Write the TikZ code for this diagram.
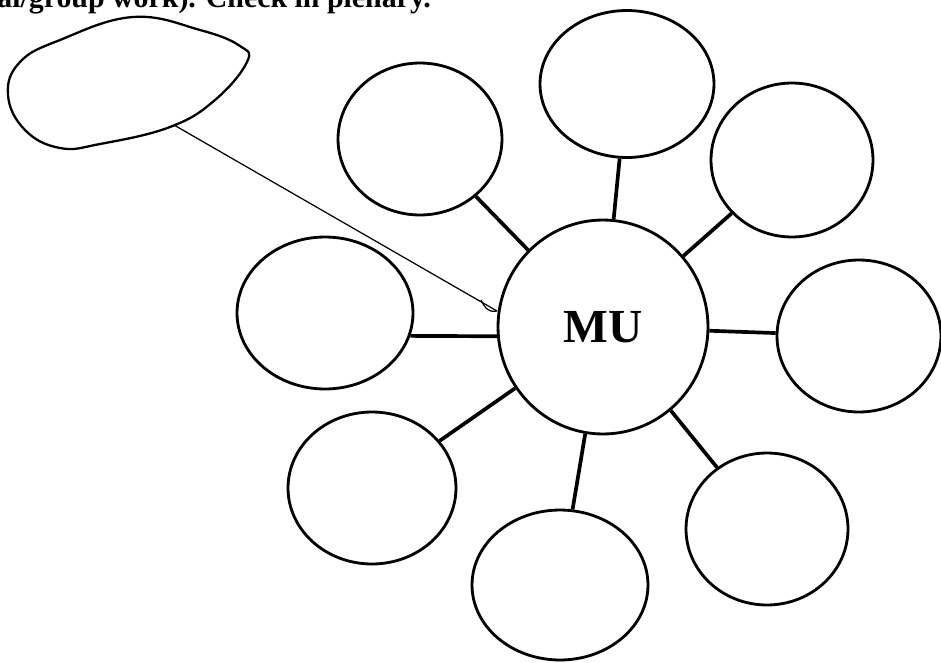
\documentclass[tikz,border=0pt]{standalone}
\usepackage{fontspec}
\setmainfont{Liberation Serif}
\usetikzlibrary{shapes.geometric}

\begin{document}
\begin{tikzpicture}[x=0.02cm, y=-0.02cm,
    bubble/.style={ellipse, draw, line width=1.6pt, inner sep=0pt},
    spoke/.style={line width=2.1pt},
    pointer/.style={line width=0.7pt}]
    % Page frame
    \useasboundingbox (0,0) rectangle (941,663);
    \clip (0,0) rectangle (941,663);

    % Instruction line, cut at the top
    \node[anchor=base west, inner sep=0pt, font=\bfseries\fontsize{17}{17}\selectfont] (Task) at (-3,7) {al/group work). Check in plenary.};

    % Centre
    \node[bubble, minimum width=4.2cm, minimum height=4.28cm, font=\bfseries\fontsize{27}{27}\selectfont] (MU) at (603,327) {MU};

    % Bubbles round the centre
    \node[bubble, minimum width=3.28cm, minimum height=3.04cm] (NW) at (420,139) {};
    \node[bubble, minimum width=3.48cm, minimum height=2.94cm] (N) at (627,84) {};
    \node[bubble, minimum width=3.24cm, minimum height=3.08cm] (NE) at (792,160) {};
    \node[bubble, minimum width=3.28cm, minimum height=3.04cm] (E) at (859,336) {};
    \node[bubble, minimum width=3.24cm, minimum height=3.04cm] (SE) at (767,529) {};
    \node[bubble, minimum width=3.52cm, minimum height=3.0cm] (S) at (560,585) {};
    \node[bubble, minimum width=3.36cm, minimum height=3.04cm] (SW) at (372,488) {};
    \node[bubble, minimum width=3.52cm, minimum height=3.04cm] (W) at (325,313) {};

    % Spokes
    \foreach \b in {NW, N, NE, E, SE, S, SW}
        \draw[spoke] (MU) -- (\b);
    \draw[spoke] (MU.185) -- (W.-15);

    % Loose bubble at the top left
    \draw[line width=1.3pt] plot[smooth cycle, tension=0.7] coordinates {
        (247,62) (215,100) (170,127) (100,144) (60,148) (25,130)
        (8,95) (20,62) (60,40) (133,17) (200,30) (240,46)};
    \coordinate (BlobEnd) at (174,125);
    \coordinate (Tip) at (497,311);

    % Pointer from the loose bubble to the centre
    \draw[pointer] (BlobEnd) -- (Tip);
    \draw[pointer] (Tip) .. controls (487,313) and (484,306) .. (481,300);
\end{tikzpicture}
\end{document}
